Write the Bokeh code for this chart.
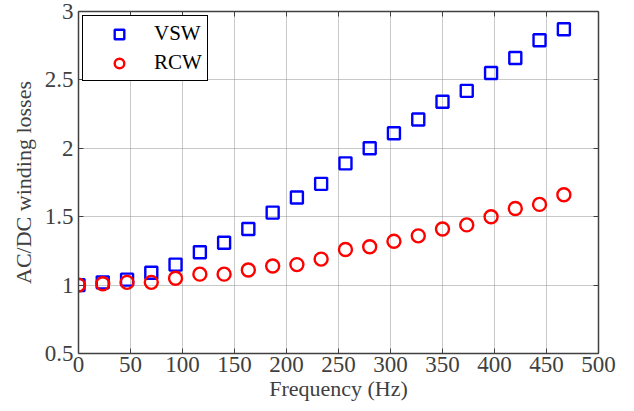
from bokeh.plotting import figure
from bokeh.models import LinearAxis, Range1d, FixedTicker, Legend, LegendItem, ColumnDataSource
from bokeh.embed import file_html
from bokeh.resources import INLINE

freq = [0, 23.3, 46.7, 70, 93.3, 116.7, 140, 163.3, 186.7, 210, 233.3,
        256.7, 280, 303.3, 326.7, 350, 373.3, 396.7, 420, 443.3, 466.7]
vsw = [1.0, 1.02, 1.04, 1.09, 1.15, 1.24, 1.31, 1.41, 1.53, 1.64, 1.74,
       1.89, 2.0, 2.11, 2.21, 2.34, 2.42, 2.55, 2.66, 2.79, 2.87]
rcw = [1.0, 1.01, 1.02, 1.02, 1.05, 1.08, 1.08, 1.11, 1.14, 1.15, 1.19,
       1.26, 1.28, 1.32, 1.36, 1.41, 1.44, 1.50, 1.56, 1.59, 1.66]
xticks = [0, 50, 100, 150, 200, 250, 300, 350, 400, 450, 500]
yticks = [0.5, 1, 1.5, 2, 2.5, 3]

FONT = "Liberation Serif"
TXT = "#404040"

p = figure(width=630, height=405, output_backend="svg", toolbar_location=None,
           x_range=Range1d(0, 500), y_range=Range1d(0.5, 3),
           min_border_left=78, min_border_right=32, min_border_top=11, min_border_bottom=52)
p.outline_line_color = None
p.background_fill_color = "white"

src = ColumnDataSource(dict(f=freq, v=vsw, r=rcw))
r1 = p.scatter("f", "v", source=src, marker="square", size=12, fill_color=None,
               line_color="#0000ff", line_width=2.4)
r2 = p.scatter("f", "r", source=src, marker="circle", size=13, fill_color=None,
               line_color="#ff0000", line_width=2.4)

for ax in (p.xaxis[0], p.yaxis[0]):
    ax.major_label_text_font = FONT
    ax.major_label_text_font_size = "23px"
    ax.major_label_text_color = TXT
    ax.axis_label_text_font = FONT
    ax.axis_label_text_font_size = "22px"
    ax.axis_label_text_font_style = "normal"
    ax.axis_label_text_color = TXT
    ax.axis_line_color = "#404040"
    ax.axis_line_width = 1.5
    ax.major_tick_in = 5
    ax.major_tick_out = 0
    ax.major_tick_line_color = "#404040"
    ax.minor_tick_line_color = None

p.xaxis[0].ticker = FixedTicker(ticks=xticks)
p.yaxis[0].ticker = FixedTicker(ticks=yticks)
p.xaxis[0].axis_label = "Frequency (Hz)"
p.yaxis[0].axis_label = "AC/DC winding losses"
p.xaxis[0].major_label_standoff = 3
p.yaxis[0].major_label_standoff = 5
p.xaxis[0].axis_label_standoff = 1
p.yaxis[0].axis_label_standoff = 6

top = LinearAxis(ticker=FixedTicker(ticks=xticks), major_label_text_font_size="0px",
                 major_tick_in=5, major_tick_out=0, minor_tick_line_color=None,
                 axis_line_color="#404040", axis_line_width=1.5, major_tick_line_color="#404040")
right = LinearAxis(ticker=FixedTicker(ticks=yticks), major_label_text_font_size="0px",
                   major_tick_in=5, major_tick_out=0, minor_tick_line_color=None,
                   axis_line_color="#404040", axis_line_width=1.5, major_tick_line_color="#404040")
top.major_label_text_color = None
right.major_label_text_color = None
p.add_layout(top, "above")
p.add_layout(right, "right")

for g in (p.xgrid[0], p.ygrid[0]):
    g.grid_line_color = "#888888"
    g.grid_line_dash = "1 1"
    g.grid_line_width = 1
    g.grid_line_alpha = 0.9
p.xgrid[0].ticker = FixedTicker(ticks=xticks)
p.ygrid[0].ticker = FixedTicker(ticks=yticks)

legend = Legend(items=[LegendItem(label="VSW", renderers=[r1]),
                       LegendItem(label="RCW", renderers=[r2])],
                location="top_left")
legend.label_text_font = FONT
legend.label_text_font_size = "21px"
legend.label_text_color = "#000000"
legend.border_line_color = "#000000"
legend.border_line_alpha = 1.0
legend.border_line_width = 1.5
legend.background_fill_color = "white"
legend.background_fill_alpha = 1
legend.margin = 4
legend.padding = 5
legend.spacing = 4
legend.glyph_width = 62
legend.glyph_height = 24
legend.label_standoff = 4
legend.label_height = 24
p.add_layout(legend)

open("out.html", "w").write(file_html(p, INLINE))
